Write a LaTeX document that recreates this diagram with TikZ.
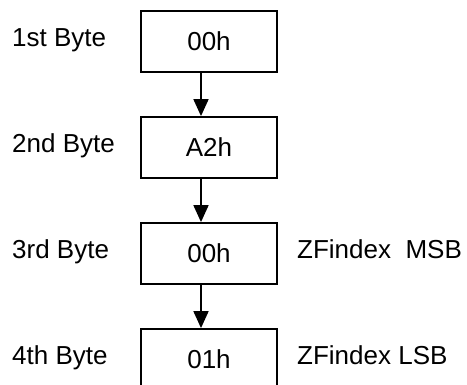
\documentclass[tikz,border=0pt]{standalone}
\usepackage{fontspec}
\setmainfont{Liberation Sans}
\usetikzlibrary{arrows.meta, positioning}

\begin{document}
\begin{tikzpicture}[x=1pt, y=-1pt, font=\fontsize{26}{31}\selectfont,
    bytebox/.style={draw, line width=1.8pt, minimum width=136pt,
      minimum height=61pt, inner sep=0pt},
    bytelabel/.style={anchor=base west, inner sep=0pt},
    flow/.style={line width=1.8pt, -{Triangle[length=17pt, width=15pt]}}]
  \clip (0,0) rectangle (467,385);
  % byte boxes
  \node[bytebox] (b1) at (209,41.5) {00h};
  \node[bytebox] (b2) at (209,147.5) {A2h};
  \node[bytebox] (b3) at (209,253.5) {00h};
  \node[bytebox] (b4) at (209,359.5) {01h};
  % byte names
  \node[bytelabel] (n1) at (12,46.5) {1st Byte};
  \node[bytelabel] (n2) at (12,152.5) {2nd Byte};
  \node[bytelabel] (n3) at (12,258.5) {3rd Byte};
  \node[bytelabel] (n4) at (12,364.5) {4th Byte};
  % meaning
  \node[bytelabel] (msb) at (297,258.5) {ZFindex~~MSB};
  \node[bytelabel] (lsb) at (297,364.5) {ZFindex LSB};
  % sequence
  \draw[flow] ([xshift=-8pt]b1.south) -- ([xshift=-8pt]b2.north);
  \draw[flow] ([xshift=-8pt]b2.south) -- ([xshift=-8pt]b3.north);
  \draw[flow] ([xshift=-8pt]b3.south) -- ([xshift=-8pt]b4.north);
\end{tikzpicture}
\end{document}
